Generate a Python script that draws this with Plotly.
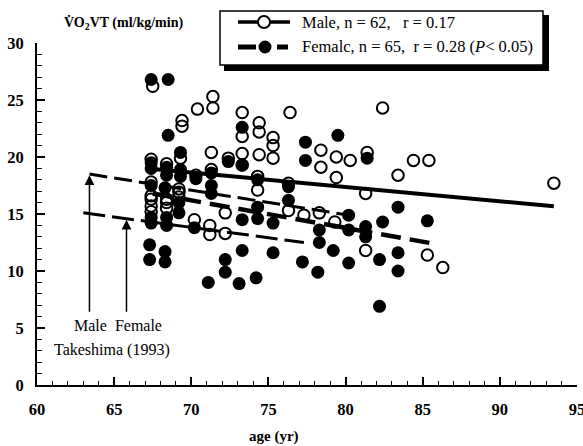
import plotly.graph_objects as go

W, H = 583, 446
SERIF = "Liberation Serif"

# ---------------- data ----------------
male_age = [67.5, 71.4, 71.4, 70.4, 69.4, 69.4, 73.3, 73.3, 69.3, 71.3, 73.3,
            69.2, 69.2, 67.4, 67.4, 67.4, 68.4, 68.4, 70.2, 71.2, 71.2, 72.2, 72.2,
            74.4, 74.4, 75.3, 75.3, 75.3, 76.4, 78.4, 78.4, 79.4, 79.4, 80.3,
            74.4, 74.3, 76.3, 77.3, 78.3, 79.3, 82.4, 81.4, 84.4, 85.4, 83.4,
            81.3, 81.3, 85.3, 86.3, 93.5,
            67.4, 68.4, 67.4, 68.4, 69.2, 70.3, 71.3, 73.3, 74.3, 76.3, 72.4, 67.4]
male_vo2 = [26.2, 25.3, 24.3, 24.2, 23.2, 22.7, 23.9, 21.8, 19.9, 20.4, 20.3,
            16.9, 16.5, 16.3, 15.7, 15.2, 16.0, 15.5, 14.5, 14.0, 13.2, 15.1, 13.3,
            23.0, 22.2, 21.7, 21.0, 19.9, 23.9, 20.6, 19.1, 20.0, 18.2, 19.7,
            20.2, 17.1, 15.3, 14.9, 15.1, 14.3, 24.3, 20.4, 19.7, 19.7, 18.4,
            16.8, 11.8, 11.4, 10.3, 17.7,
            19.8, 19.4, 16.6, 16.3, 17.2, 18.4, 18.9, 19.3, 18.3, 17.7, 19.9, 17.8]

female_age = [67.4, 68.5, 68.5, 73.3, 69.3, 72.4, 73.3, 67.4, 67.4, 68.4,
              68.4, 69.3, 69.3, 70.3, 71.3, 71.3, 71.3, 67.4, 68.3, 69.2,
              69.2, 67.4, 67.4, 68.4, 68.4, 70.2, 73.3, 67.3, 67.3, 68.3,
              68.3, 72.2, 72.2, 71.1, 73.1, 73.3, 77.4, 77.4, 79.5, 74.3,
              76.3, 76.3, 74.3, 74.3, 75.3, 78.3, 78.3, 80.2, 80.2, 75.3,
              79.2, 77.2, 78.2, 74.2, 80.2, 81.4, 83.4, 82.4, 81.3, 81.3,
              85.3, 83.4, 83.4, 82.2, 82.2]
female_vo2 = [26.8, 26.8, 21.9, 22.6, 20.4, 19.6, 19.3, 19.5, 19.0, 19.1,
              18.4, 18.9, 18.3, 18.1, 18.6, 17.5, 16.8, 17.5, 17.3, 16.0,
              15.1, 14.7, 14.2, 14.7, 14.0, 13.8, 14.5, 12.3, 11.0, 11.7,
              10.8, 11.0, 9.9, 9.0, 8.9, 11.8, 21.3, 19.7, 21.9, 18.0,
              17.4, 16.2, 15.6, 14.6, 14.2, 13.6, 12.5, 14.9, 13.6, 11.6,
              11.8, 10.8, 9.9, 9.4, 10.7, 19.9, 15.6, 14.3, 13.9, 13.0,
              14.4, 11.6, 10.0, 11.0, 6.9]

# regression lines (end points)
male_fit_x, male_fit_y = [67.5, 93.5], [18.95, 15.67]
female_fit_x, female_fit_y = [67.5, 85.5], [16.8, 12.45]
tak_male_x, tak_male_y = [63.4, 80.2], [18.5, 14.9]
tak_female_x, tak_female_y = [63.0, 77.3], [15.1, 12.5]

x_ticks = [60, 65, 70, 75, 80, 85, 90, 95]
y_ticks = [0, 5, 10, 15, 20, 25, 30]

legend_male = "Male, n = 62,\u00a0\u00a0 r = 0.17"
legend_female = "Femalc, n = 65,\u00a0 r = 0.28 (<i>P</i>&lt; 0.05)"
y_title = "V\u0307O<sub>2</sub>VT (ml/kg/min)"
x_title = "age (yr)"

# ---------------- helpers (pixel -> paper) ----------------
def px(x):
    return x / W

def py(y):
    return 1 - y / H

X0, X1, Y0, Y1 = 37, 577, 43, 385

fig = go.Figure()

fig.add_trace(go.Scatter(x=male_age, y=male_vo2, mode="markers",
                         marker=dict(symbol="circle-open", size=11.5, color="black",
                                     line=dict(width=2, color="black")),
                         showlegend=False, cliponaxis=False))
fig.add_trace(go.Scatter(x=female_age, y=female_vo2, mode="markers",
                         marker=dict(symbol="circle", size=13, color="black"),
                         showlegend=False, cliponaxis=False))

fig.add_trace(go.Scatter(x=male_fit_x, y=male_fit_y, mode="lines",
                         line=dict(color="black", width=4), showlegend=False))
fig.add_trace(go.Scatter(x=female_fit_x, y=female_fit_y, mode="lines",
                         line=dict(color="black", width=4.5, dash="20px,9px"),
                         showlegend=False))
fig.add_trace(go.Scatter(x=tak_male_x, y=tak_male_y, mode="lines",
                         line=dict(color="black", width=3, dash="18px,7px"),
                         showlegend=False))
fig.add_trace(go.Scatter(x=tak_female_x, y=tak_female_y, mode="lines",
                         line=dict(color="black", width=3, dash="22px,7px"),
                         showlegend=False))

shapes = []
# legend box with shadow
shapes.append(dict(type="rect", xref="paper", yref="paper",
                   x0=px(224), x1=px(549), y0=py(71), y1=py(15),
                   fillcolor="black", line=dict(width=0), layer="above"))
shapes.append(dict(type="rect", xref="paper", yref="paper",
                   x0=px(220), x1=px(543), y0=py(65), y1=py(11),
                   fillcolor="white", line=dict(color="black", width=1.5), layer="above"))
# legend symbols
shapes.append(dict(type="line", xref="paper", yref="paper",
                   x0=px(238), x1=px(290), y0=py(22), y1=py(22),
                   line=dict(color="black", width=3.5), layer="above"))
shapes.append(dict(type="line", xref="paper", yref="paper",
                   x0=px(238), x1=px(256), y0=py(47), y1=py(47),
                   line=dict(color="black", width=5), layer="above"))
shapes.append(dict(type="line", xref="paper", yref="paper",
                   x0=px(277), x1=px(288), y0=py(47), y1=py(47),
                   line=dict(color="black", width=5), layer="above"))
shapes.append(dict(type="circle", xref="paper", yref="paper",
                   xsizemode="pixel", ysizemode="pixel",
                   xanchor=px(264), yanchor=py(22), x0=-6, x1=6, y0=-6, y1=6,
                   fillcolor="white", line=dict(color="black", width=2), layer="above"))
shapes.append(dict(type="circle", xref="paper", yref="paper",
                   xsizemode="pixel", ysizemode="pixel",
                   xanchor=px(265), yanchor=py(47), x0=-6.5, x1=6.5, y0=-6.5, y1=6.5,
                   fillcolor="black", line=dict(color="black", width=0), layer="above"))

annotations = [
    dict(text=legend_male, xref="paper", yref="paper", x=px(378), y=py(22),
         xanchor="center", yanchor="middle", showarrow=False,
         font=dict(family=SERIF, size=16.5, color="black")),
    dict(text=legend_female, xref="paper", yref="paper", x=px(417), y=py(47),
         xanchor="center", yanchor="middle", showarrow=False,
         font=dict(family=SERIF, size=16.5, color="black")),
    dict(text=y_title, xref="paper", yref="paper", x=px(123), y=py(23),
         xanchor="center", yanchor="middle", showarrow=False,
         font=dict(family=SERIF, size=14, color="black", weight="bold")),
    dict(text=x_title, xref="paper", yref="paper", x=px(274), y=py(436),
         xanchor="center", yanchor="middle", showarrow=False,
         font=dict(family=SERIF, size=15, color="black", weight="bold")),
    dict(text="Male\u00a0 Female", xref="paper", yref="paper", x=px(118), y=py(325),
         xanchor="center", yanchor="middle", showarrow=False,
         font=dict(family=SERIF, size=16, color="black")),
    dict(text="Takeshima (1993)", xref="paper", yref="paper", x=px(112), y=py(350),
         xanchor="center", yanchor="middle", showarrow=False,
         font=dict(family=SERIF, size=16, color="black")),
    # arrows pointing at the Takeshima lines
    dict(text="", x=tak_male_x[0], y=tak_male_y[0] - 0.1, ax=tak_male_x[0], ay=6.3,
         xref="x", yref="y", axref="x", ayref="y", showarrow=True,
         arrowhead=2, arrowsize=1.3, arrowwidth=1.5, arrowcolor="black"),
    dict(text="", x=65.8, y=14.5, ax=65.8, ay=6.3,
         xref="x", yref="y", axref="x", ayref="y", showarrow=True,
         arrowhead=2, arrowsize=1.3, arrowwidth=1.5, arrowcolor="black"),
]

axis_common = dict(showgrid=False, zeroline=False, showline=True, linecolor="black",
                   linewidth=2, ticks="inside", tickcolor="black", tickwidth=1.5,
                   ticklen=8, ticklabeloverflow="allow", automargin=False,
                   tickfont=dict(family=SERIF, size=16.5, color="black", weight="bold"))

fig.update_layout(
    width=W, height=H,
    margin=dict(l=0, r=0, t=0, b=0, autoexpand=False),
    paper_bgcolor="white", plot_bgcolor="white",
    showlegend=False,
    font=dict(family=SERIF),
    shapes=shapes, annotations=annotations,
    xaxis=dict(range=[60, 95], domain=[px(X0), px(X1)], tickvals=x_ticks,
               ticklabelstandoff=8,
               minor=dict(dtick=1, ticks="inside", ticklen=4, tickwidth=1.2,
                          tickcolor="black", showgrid=False),
               **axis_common),
    yaxis=dict(range=[0, 30], domain=[py(Y1), py(Y0)], tickvals=y_ticks,
               ticklabelstandoff=8,
               minor=dict(dtick=1, ticks="inside", ticklen=5, tickwidth=1.2,
                          tickcolor="black", showgrid=False),
               **axis_common),
)

fig.write_html("out.html", config={"displayModeBar": False},
               post_script="document.body.style.margin='0px';document.body.style.overflow='hidden';")
